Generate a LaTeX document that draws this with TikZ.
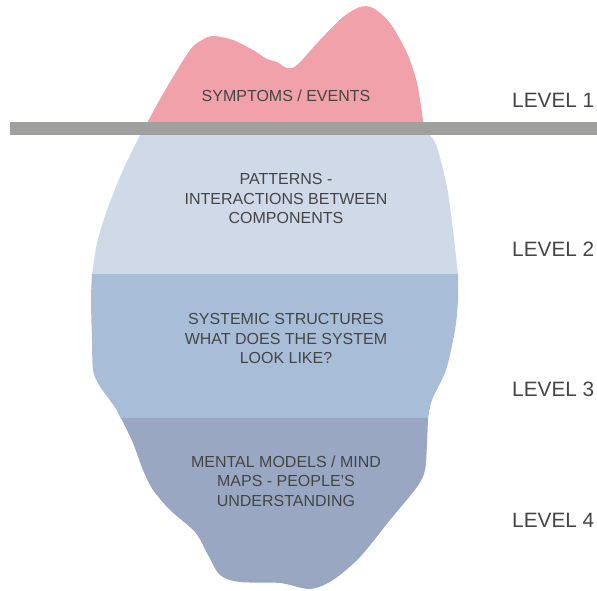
\documentclass[tikz,border=0pt]{standalone}
\usepackage{fontspec}
\setmainfont{Liberation Sans}
\definecolor{tipred}{HTML}{F0A1A9}
\definecolor{pattblue}{HTML}{CFD9E7}
\definecolor{structblue}{HTML}{A8BDD7}
\definecolor{mentalblue}{HTML}{99A7C2}
\definecolor{waterline}{HTML}{A0A09E}
\definecolor{inktext}{HTML}{454545}
\begin{document}
\begin{tikzpicture}[x=1pt, y=-1pt,
  layer/.style={text=inktext, align=center, inner sep=0pt, font=\fontsize{16}{19.5}\selectfont},
  level/.style={text=inktext, anchor=west, inner sep=0pt, font=\fontsize{20.8}{24}\selectfont}]
\useasboundingbox (0,0) rectangle (597,591);
% level 2 band
\fill[pattblue] plot[smooth] coordinates {(142,129) (140,135) (123,170) (107,210) (97,243) (92,275)}
  -- plot[smooth] coordinates {(458,275) (453,230) (447,187) (437,147) (430,135) (428,129)} -- cycle;
% level 3 band
\fill[structblue] plot[smooth] coordinates {(92,274) (91,300) (92,340) (93,370) (99,385) (109,399) (116,409) (121,419)}
  -- plot[smooth] coordinates {(428,419) (432,400) (446,370) (455,330) (458,300) (458,274)} -- cycle;
% level 4 band
\fill[mentalblue] plot[smooth] coordinates {(121,418) (133,443) (143,470) (153,490) (170,510) (195,532) (207,553)
  (220,575) (240,582) (280,583) (310,589) (333,580) (360,557) (390,520) (417,487) (425,470) (427,443) (428,418)} -- cycle;
% tip above the water
\fill[tipred] plot[smooth] coordinates {(145,128) (147,123) (167,87) (190,50) (202,40) (213,36) (233,40) (253,50)
  (267,59) (277,62) (287,68) (297,65) (320,40) (343,17) (360,7) (373,8) (390,23) (407,53) (417,83) (423,120) (424,128)} -- cycle;
% water line
\fill[waterline] (10,122.5) rectangle (597,135.5);

\node[layer] (symp) at (286,95.5) {SYMPTOMS / EVENTS};
\node[layer] (patt) at (286,198.5) {PATTERNS -\\INTERACTIONS BETWEEN\\COMPONENTS};
\node[layer] (struct) at (286,338.5) {SYSTEMIC STRUCTURES\\WHAT DOES THE SYSTEM\\LOOK LIKE?};
\node[layer] (mental) at (286,481) {MENTAL MODELS / MIND\\MAPS - PEOPLE’S\\UNDERSTANDING};

\node[level] (lvl1) at (512,100) {LEVEL 1};
\node[level] (lvl2) at (512,249) {LEVEL 2};
\node[level] (lvl3) at (512,389.5) {LEVEL 3};
\node[level] (lvl4) at (512,520.5) {LEVEL 4};
\end{tikzpicture}
\end{document}
